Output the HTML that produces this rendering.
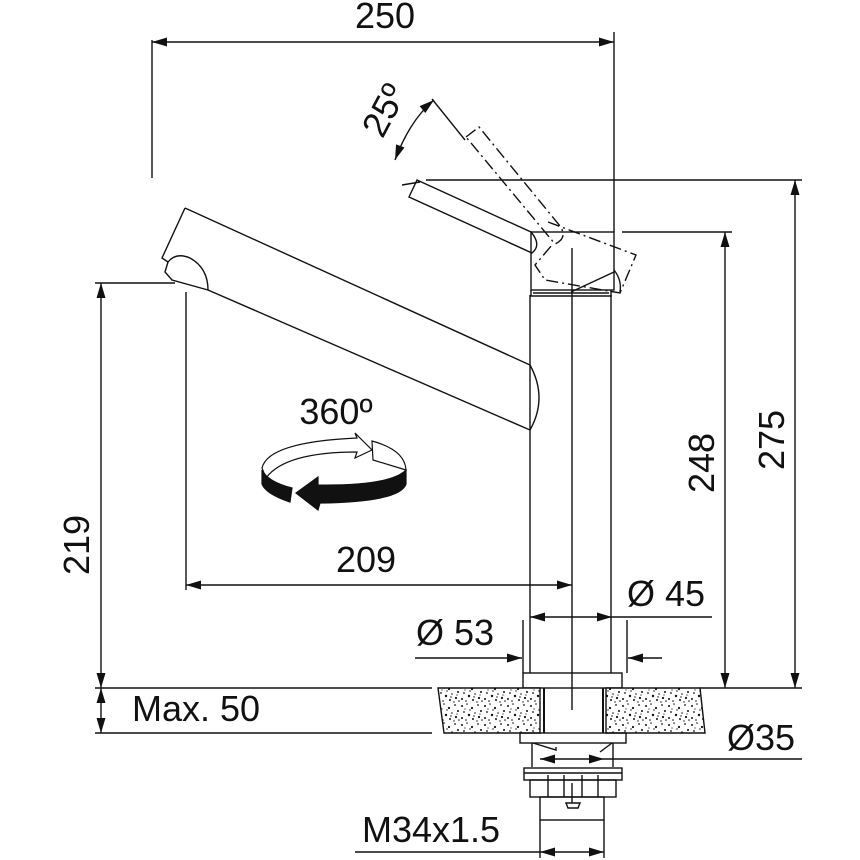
<!DOCTYPE html>
<html><head><meta charset="utf-8"><style>
html,body{margin:0;padding:0;background:#fff}
svg{display:block}
text{font-family:"Liberation Sans",Arial,sans-serif;fill:#111;font-size:36px;text-anchor:middle}
</style></head><body>
<svg width="860" height="860" viewBox="0 0 860 860" xmlns="http://www.w3.org/2000/svg">
<defs>
<marker id="a" viewBox="0 0 10 6" refX="10" refY="3" markerWidth="24" markerHeight="9" markerUnits="userSpaceOnUse" orient="auto-start-reverse"><path d="M0,0L10,3L0,6z" fill="#111"/></marker>
<pattern id="sp" width="23" height="19" patternUnits="userSpaceOnUse">
<rect width="23" height="19" fill="#fff"/>
<g fill="#111">
<circle cx="2" cy="3" r="1"/><circle cx="7" cy="1" r=".8"/><circle cx="12" cy="5" r="1.1"/><circle cx="18" cy="2" r=".9"/><circle cx="21" cy="8" r="1"/><circle cx="4" cy="9" r=".9"/><circle cx="9" cy="12" r="1.2"/><circle cx="15" cy="10" r=".8"/><circle cx="19" cy="14" r="1.1"/><circle cx="2" cy="15" r="1"/><circle cx="6" cy="17" r=".8"/><circle cx="13" cy="16" r="1"/><circle cx="17" cy="18" r=".7"/><circle cx="10" cy="7" r=".7"/><circle cx="22" cy="17" r=".8"/><circle cx="14" cy="13" r=".7"/><circle cx="5" cy="6" r=".6"/><circle cx="20" cy="11" r=".6"/>
</g></pattern>
</defs>
<g stroke="#111" stroke-width="1.4" fill="none">
<line x1="152" y1="40" x2="152" y2="178"/>
<line x1="614" y1="32" x2="614" y2="232"/>
<line x1="152" y1="42" x2="614" y2="42" marker-start="url(#a)" marker-end="url(#a)"/>
<line x1="426" y1="180" x2="802" y2="180"/>
<line x1="622" y1="232" x2="732" y2="232"/>
<line x1="795" y1="180" x2="795" y2="688" marker-start="url(#a)" marker-end="url(#a)"/>
<line x1="725" y1="232" x2="725" y2="688" marker-start="url(#a)" marker-end="url(#a)"/>
<line x1="95" y1="283" x2="175" y2="283"/>
<line x1="101" y1="283" x2="101" y2="688" marker-start="url(#a)" marker-end="url(#a)"/>
<line x1="101" y1="688" x2="101" y2="733" marker-start="url(#a)" marker-end="url(#a)"/>
<line x1="95" y1="688" x2="432" y2="688"/>
<line x1="95" y1="733" x2="432" y2="733"/>
<line x1="700" y1="688" x2="802" y2="688"/>
<line x1="186" y1="292" x2="186" y2="590"/>
<line x1="186" y1="585" x2="572" y2="585" marker-start="url(#a)" marker-end="url(#a)"/>
<path d="M185,208 L530,365 Q548,398 530,430 L208,290"/>
<path d="M185,208 L162,258 L168,262"/>
<path d="M168,262 Q176,252 190,258 Q208,268 208,290 L172,280 L165,272 Z"/>
<path d="M530,295 L530,673 M611,295 L611,673"/>
<line x1="572" y1="248" x2="572" y2="710"/>
<rect x="531" y="232" width="83" height="58"/>
<path d="M531,290 L531,296 L611,296 L611,290 M533,293 L609,293"/>
<path d="M614,272 L571,292"/>
<path d="M614,270 Q622,280 620,292"/>
<path d="M417,180 L531,232 Q542,245 532,253 L409,197 Z"/>
<g stroke-dasharray="12,4,2,4">
<path d="M466,137 L479,127 L560,226 Q568,238 555,244 Z"/>
<path d="M548,222 L636,255 L620,293 L545,280 L535,265 L552,245"/>
</g>
<line x1="432" y1="99" x2="465" y2="140"/>
<line x1="402" y1="185" x2="420" y2="182"/>
<path d="M395,160 Q410,120 434,100" marker-start="url(#a)" marker-end="url(#a)"/>
<line x1="530" y1="617" x2="612" y2="617" marker-start="url(#a)" marker-end="url(#a)"/>
<line x1="612" y1="617" x2="712" y2="617"/>
<line x1="523" y1="620" x2="523" y2="673"/>
<line x1="627" y1="620" x2="627" y2="673"/>
<line x1="415" y1="658" x2="522" y2="658" marker-end="url(#a)"/>
<line x1="662" y1="658" x2="628" y2="658" marker-end="url(#a)"/>
<rect x="523" y="673" width="99" height="15"/>
</g>
<path d="M438,688 L540,688 L540,733 L444,733 Z" fill="url(#sp)" stroke="#111" stroke-width="1.4"/>
<path d="M606,688 L700,688 L705,733 L606,733 Z" fill="url(#sp)" stroke="#111" stroke-width="1.4"/>
<g stroke="#111" stroke-width="1.4" fill="none">
<line x1="544" y1="688" x2="544" y2="733" stroke-width="2"/>
<line x1="603" y1="688" x2="603" y2="733" stroke-width="2"/>
<rect x="520" y="733" width="106" height="10"/>
<path d="M533,743 L556,750 L556,747 M612,743 L600,752"/>
<path d="M532,743 L532,767 M613,743 L613,767"/>
<line x1="540" y1="759" x2="604" y2="759" marker-start="url(#a)" marker-end="url(#a)"/>
<line x1="604" y1="759" x2="802" y2="759"/>
<rect x="524" y="768" width="98" height="12"/>
<line x1="524" y1="773" x2="622" y2="773"/>
<rect x="530" y="780" width="86" height="17"/>
<path d="M548,775 L548,797 M564,775 L564,797 M582,775 L582,797 M598,775 L598,797"/>
<path d="M572,783 L572,803 M566,803 L580,803 L578,808 L568,808 Z"/>
<rect x="540" y="797" width="64" height="23"/>
<line x1="540" y1="820" x2="540" y2="858"/>
<line x1="604" y1="820" x2="604" y2="858"/>
<line x1="540" y1="852" x2="604" y2="852" marker-start="url(#a)" marker-end="url(#a)"/>
<line x1="355" y1="852" x2="540" y2="852"/>
</g>
<g stroke="#111" stroke-width="1.2">
<path d="M262,468 Q268,442 357,438 L355,433 L372,450 L355,458 L357,452 Q285,452 266,478 Z" fill="#fff"/>
<path d="M372,441 Q405,450 406,470 L373,460 Z" fill="#fff"/>
<path d="M262,470 L262,484 Q266,494 290,502 L292,488 Q268,482 262,470 Z" fill="#111"/>
<path d="M406,470 L406,484 Q400,502 320,503 L318,510 L296,493 L318,477 L318,485 Q390,486 406,470 Z" fill="#111"/>
</g>
<text x="385" y="28">250</text>
<text x="336" y="424">360º</text>
<text x="366" y="572">209</text>
<text x="666" y="606">Ø 45</text>
<text x="455" y="645">Ø 53</text>
<text x="196" y="721">Max. 50</text>
<text x="761" y="750">Ø35</text>
<text x="431" y="842">M34x1.5</text>
<text transform="translate(89,545) rotate(-90)">219</text>
<text transform="translate(714,463) rotate(-90)">248</text>
<text transform="translate(784,440) rotate(-90)">275</text>
<text transform="translate(395,116) rotate(-62)">25º</text>
</svg>
</body></html>
